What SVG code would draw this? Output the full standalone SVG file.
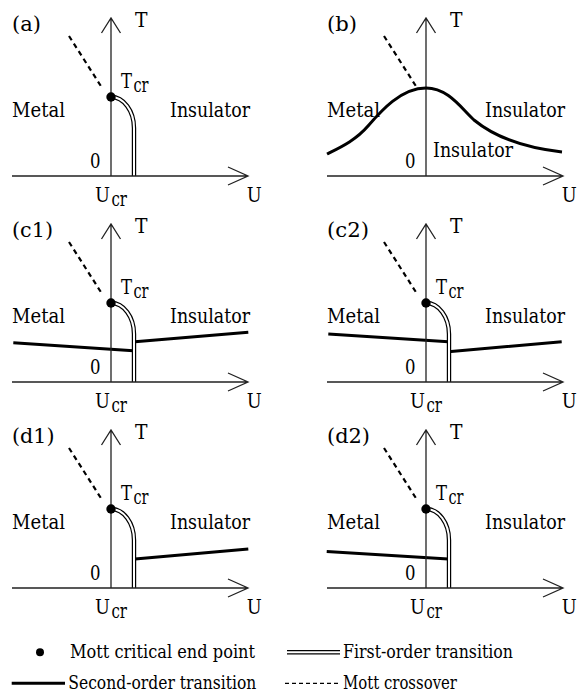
<svg xmlns="http://www.w3.org/2000/svg" xmlns:xlink="http://www.w3.org/1999/xlink" width="579" height="698" viewBox="0 0 579 698">
<style>
.ax{stroke:#222;stroke-width:1.3;fill:none}
.dash{stroke:#000;stroke-width:2.2;stroke-dasharray:5 4;fill:none}
.so{stroke:#000;stroke-width:3;fill:none}
.foo{stroke:#000;stroke-width:4.4;fill:none}
.foi{stroke:#fff;stroke-width:2;fill:none}
text{font-family:"DejaVu Serif","Liberation Serif",serif;font-size:20.5px;fill:#000}
.lg{font-size:18.7px}
</style>
<defs>
<path id="axes" class="ax" d="M-99,0 H137 M117,-9 L137,0 L117,9 M0,0 V-158 M-9.5,-143 L0,-158 L9.5,-143"/>
<path id="fo" d="M0,-79 A23,31 0 0 1 23,-48 V0"/>
<g id="common">
<use xlink:href="#fo" class="foo"/>
<use xlink:href="#fo" class="foi"/>
<use xlink:href="#axes"/>
<path class="dash" d="M-42,-140 L-9.5,-89"/>
<circle cx="0" cy="-79" r="4.7" fill="#000"/>
</g>
</defs>

<g id="panel-a" transform="translate(111,176)">
<use xlink:href="#common"/>
<text x="-99" y="-145" textLength="29" lengthAdjust="spacingAndGlyphs">(a)</text>
<text x="10" y="-88" textLength="11" lengthAdjust="spacingAndGlyphs">T</text>
<text x="22.5" y="-84.5" textLength="15" lengthAdjust="spacingAndGlyphs">cr</text>
<text x="-99" y="-59.5" textLength="53" lengthAdjust="spacingAndGlyphs">Metal</text>
<text x="59" y="-59.5" textLength="80" lengthAdjust="spacingAndGlyphs">Insulator</text>
<text x="-21" y="-8" textLength="10.5" lengthAdjust="spacingAndGlyphs">0</text>
<text x="-16" y="25.7" textLength="15" lengthAdjust="spacingAndGlyphs">U</text>
<text x="0.5" y="30" textLength="15.5" lengthAdjust="spacingAndGlyphs">cr</text>
<text x="24" y="-149" textLength="12.5" lengthAdjust="spacingAndGlyphs">T</text>
<text x="135.7" y="25.7" textLength="15" lengthAdjust="spacingAndGlyphs">U</text>
</g>

<g id="panel-b" transform="translate(426,176)">
<use xlink:href="#axes"/>
<path class="dash" d="M-42,-140 L-9.5,-89"/>
<path class="so" d="M-99,-22 C-85,-29 -70,-36 -58,-50 C-45,-65 -25,-88 0,-88 C22,-88 35,-68 48,-56 C70,-38 100,-28 136,-24"/>
<text x="-99" y="-145" textLength="30" lengthAdjust="spacingAndGlyphs">(b)</text>
<text x="24" y="-149" textLength="12.5" lengthAdjust="spacingAndGlyphs">T</text>
<text x="-99" y="-59.5" textLength="53" lengthAdjust="spacingAndGlyphs">Metal</text>
<text x="59" y="-59.5" textLength="80" lengthAdjust="spacingAndGlyphs">Insulator</text>
<text x="7" y="-19" textLength="80" lengthAdjust="spacingAndGlyphs">Insulator</text>
<text x="-21" y="-8" textLength="10.5" lengthAdjust="spacingAndGlyphs">0</text>
<text x="135.7" y="25.7" textLength="15" lengthAdjust="spacingAndGlyphs">U</text>
</g>

<g id="panel-c1" transform="translate(111,382)">
<path class="so" d="M-97.7,-39.3 L22.3,-31.3 M24,-40.3 L137.3,-49.7"/>
<use xlink:href="#common"/>
<text x="-99" y="-145" textLength="41" lengthAdjust="spacingAndGlyphs">(c1)</text>
<text x="10" y="-88" textLength="11" lengthAdjust="spacingAndGlyphs">T</text>
<text x="22.5" y="-84.5" textLength="15" lengthAdjust="spacingAndGlyphs">cr</text>
<text x="-99" y="-59.5" textLength="53" lengthAdjust="spacingAndGlyphs">Metal</text>
<text x="59" y="-59.5" textLength="80" lengthAdjust="spacingAndGlyphs">Insulator</text>
<text x="-21" y="-8" textLength="10.5" lengthAdjust="spacingAndGlyphs">0</text>
<text x="-16" y="25.7" textLength="15" lengthAdjust="spacingAndGlyphs">U</text>
<text x="0.5" y="30" textLength="15.5" lengthAdjust="spacingAndGlyphs">cr</text>
<text x="24" y="-149" textLength="12.5" lengthAdjust="spacingAndGlyphs">T</text>
<text x="135.7" y="25.7" textLength="15" lengthAdjust="spacingAndGlyphs">U</text>
</g>

<g id="panel-c2" transform="translate(426,382)">
<path class="so" d="M-97.7,-48 L22.3,-40.3 M22.3,-30.3 L135.7,-40.3"/>
<use xlink:href="#common"/>
<text x="-99" y="-145" textLength="42" lengthAdjust="spacingAndGlyphs">(c2)</text>
<text x="10" y="-88" textLength="11" lengthAdjust="spacingAndGlyphs">T</text>
<text x="22.5" y="-84.5" textLength="15" lengthAdjust="spacingAndGlyphs">cr</text>
<text x="-99" y="-59.5" textLength="53" lengthAdjust="spacingAndGlyphs">Metal</text>
<text x="59" y="-59.5" textLength="80" lengthAdjust="spacingAndGlyphs">Insulator</text>
<text x="-21" y="-8" textLength="10.5" lengthAdjust="spacingAndGlyphs">0</text>
<text x="-16" y="25.7" textLength="15" lengthAdjust="spacingAndGlyphs">U</text>
<text x="0.5" y="30" textLength="15.5" lengthAdjust="spacingAndGlyphs">cr</text>
<text x="24" y="-149" textLength="12.5" lengthAdjust="spacingAndGlyphs">T</text>
<text x="135.7" y="25.7" textLength="15" lengthAdjust="spacingAndGlyphs">U</text>
</g>

<g id="panel-d1" transform="translate(111,588)">
<path class="so" d="M24,-29 L137.3,-39"/>
<use xlink:href="#common"/>
<text x="-99" y="-145" textLength="42.5" lengthAdjust="spacingAndGlyphs">(d1)</text>
<text x="10" y="-88" textLength="11" lengthAdjust="spacingAndGlyphs">T</text>
<text x="22.5" y="-84.5" textLength="15" lengthAdjust="spacingAndGlyphs">cr</text>
<text x="-99" y="-59.5" textLength="53" lengthAdjust="spacingAndGlyphs">Metal</text>
<text x="59" y="-59.5" textLength="80" lengthAdjust="spacingAndGlyphs">Insulator</text>
<text x="-21" y="-8" textLength="10.5" lengthAdjust="spacingAndGlyphs">0</text>
<text x="-16" y="25.7" textLength="15" lengthAdjust="spacingAndGlyphs">U</text>
<text x="0.5" y="30" textLength="15.5" lengthAdjust="spacingAndGlyphs">cr</text>
<text x="24" y="-149" textLength="12.5" lengthAdjust="spacingAndGlyphs">T</text>
<text x="135.7" y="25.7" textLength="15" lengthAdjust="spacingAndGlyphs">U</text>
</g>

<g id="panel-d2" transform="translate(426,588)">
<path class="so" d="M-99.3,-36.6 L22.3,-29"/>
<use xlink:href="#common"/>
<text x="-99" y="-145" textLength="43" lengthAdjust="spacingAndGlyphs">(d2)</text>
<text x="10" y="-88" textLength="11" lengthAdjust="spacingAndGlyphs">T</text>
<text x="22.5" y="-84.5" textLength="15" lengthAdjust="spacingAndGlyphs">cr</text>
<text x="-99" y="-59.5" textLength="53" lengthAdjust="spacingAndGlyphs">Metal</text>
<text x="59" y="-59.5" textLength="80" lengthAdjust="spacingAndGlyphs">Insulator</text>
<text x="-21" y="-8" textLength="10.5" lengthAdjust="spacingAndGlyphs">0</text>
<text x="-16" y="25.7" textLength="15" lengthAdjust="spacingAndGlyphs">U</text>
<text x="0.5" y="30" textLength="15.5" lengthAdjust="spacingAndGlyphs">cr</text>
<text x="24" y="-149" textLength="12.5" lengthAdjust="spacingAndGlyphs">T</text>
<text x="135.7" y="25.7" textLength="15" lengthAdjust="spacingAndGlyphs">U</text>
</g>

<g id="legend">
<circle cx="40" cy="652.3" r="4" fill="#000"/>
<text class="lg" x="70" y="658" textLength="185" lengthAdjust="spacingAndGlyphs">Mott critical end point</text>
<path class="foo" d="M287,652.3 H340"/>
<path class="foi" d="M287,652.3 H340"/>
<text class="lg" x="343" y="658" textLength="170" lengthAdjust="spacingAndGlyphs">First-order transition</text>
<path class="so" d="M11.7,683.3 H65"/>
<text class="lg" x="68.3" y="689" textLength="188" lengthAdjust="spacingAndGlyphs">Second-order transition</text>
<path stroke="#000" stroke-width="1.3" stroke-dasharray="4 3" d="M285,683.3 H340"/>
<text class="lg" x="343" y="689" textLength="114" lengthAdjust="spacingAndGlyphs">Mott crossover</text>
</g>
</svg>
